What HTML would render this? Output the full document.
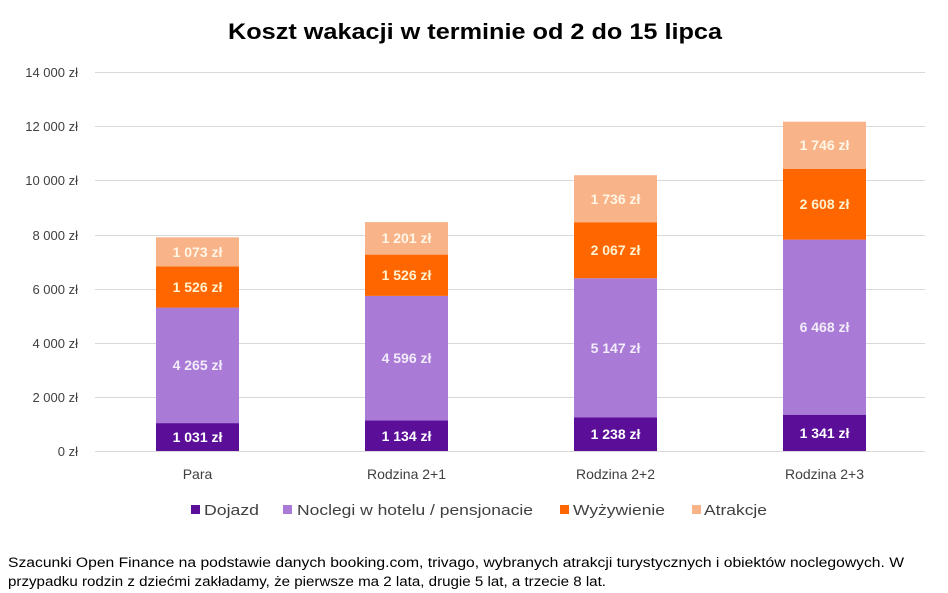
<!DOCTYPE html>
<html><head><meta charset="utf-8"><style>
body{margin:0;background:#fff;}
svg{display:block;font-family:"Liberation Sans",sans-serif;}
</style></head><body>
<svg width="948" height="593" viewBox="0 0 948 593">
<rect width="948" height="593" fill="#fff"/>
<text x="228" y="39" font-size="22" font-weight="bold" fill="#000" textLength="494" lengthAdjust="spacingAndGlyphs">Koszt wakacji w terminie od 2 do 15 lipca</text>
<g stroke="#d9d9d9" stroke-width="1">
<line x1="95" x2="925" y1="72.5" y2="72.5"/>
<line x1="95" x2="925" y1="126.5" y2="126.5"/>
<line x1="95" x2="925" y1="180.5" y2="180.5"/>
<line x1="95" x2="925" y1="235.5" y2="235.5"/>
<line x1="95" x2="925" y1="289.5" y2="289.5"/>
<line x1="95" x2="925" y1="343.5" y2="343.5"/>
<line x1="95" x2="925" y1="397.5" y2="397.5"/>
<line x1="95" x2="925" y1="451.5" y2="451.5"/>
</g>
<g font-size="13" fill="#404040" text-anchor="end">
<text x="78" y="77">14 000 zł</text>
<text x="78" y="131">12 000 zł</text>
<text x="78" y="185">10 000 zł</text>
<text x="78" y="240">8 000 zł</text>
<text x="78" y="294">6 000 zł</text>
<text x="78" y="348">4 000 zł</text>
<text x="78" y="402">2 000 zł</text>
<text x="78" y="456">0 zł</text>
</g>
<rect x="156" y="423.1" width="83" height="27.9" fill="#5b0f99"/>
<rect x="156" y="307.6" width="83" height="115.5" fill="#a97ad6"/>
<rect x="156" y="266.3" width="83" height="41.3" fill="#ff6600"/>
<rect x="156" y="237.3" width="83" height="29" fill="#f8b488"/>
<rect x="365" y="420.3" width="83" height="30.7" fill="#5b0f99"/>
<rect x="365" y="295.9" width="83" height="124.4" fill="#a97ad6"/>
<rect x="365" y="254.6" width="83" height="41.3" fill="#ff6600"/>
<rect x="365" y="222.1" width="83" height="32.5" fill="#f8b488"/>
<rect x="574" y="417.5" width="83" height="33.5" fill="#5b0f99"/>
<rect x="574" y="278.2" width="83" height="139.3" fill="#a97ad6"/>
<rect x="574" y="222.2" width="83" height="56" fill="#ff6600"/>
<rect x="574" y="175.2" width="83" height="47" fill="#f8b488"/>
<rect x="783" y="414.7" width="83" height="36.3" fill="#5b0f99"/>
<rect x="783" y="239.6" width="83" height="175.1" fill="#a97ad6"/>
<rect x="783" y="169" width="83" height="70.6" fill="#ff6600"/>
<rect x="783" y="121.7" width="83" height="47.3" fill="#f8b488"/>
<g font-size="14" font-weight="bold" text-anchor="middle">
<text x="197.5" y="442" fill="#fff">1 031 zł</text>
<text x="197.5" y="370" fill="#f3ecfa">4 265 zł</text>
<text x="197.5" y="292" fill="#fff2d0">1 526 zł</text>
<text x="197.5" y="257" fill="#fff6e8">1 073 zł</text>
<text x="406.5" y="441" fill="#fff">1 134 zł</text>
<text x="406.5" y="363" fill="#f3ecfa">4 596 zł</text>
<text x="406.5" y="280" fill="#fff2d0">1 526 zł</text>
<text x="406.5" y="243" fill="#fff6e8">1 201 zł</text>
<text x="615.5" y="439" fill="#fff">1 238 zł</text>
<text x="615.5" y="353" fill="#f3ecfa">5 147 zł</text>
<text x="615.5" y="255" fill="#fff2d0">2 067 zł</text>
<text x="615.5" y="204" fill="#fff6e8">1 736 zł</text>
<text x="824.5" y="438" fill="#fff">1 341 zł</text>
<text x="824.5" y="332" fill="#f3ecfa">6 468 zł</text>
<text x="824.5" y="209" fill="#fff2d0">2 608 zł</text>
<text x="824.5" y="150" fill="#fff6e8">1 746 zł</text>
</g>
<g font-size="14" fill="#404040" text-anchor="middle">
<text x="197.5" y="479">Para</text>
<text x="406.5" y="479">Rodzina 2+1</text>
<text x="615.5" y="479">Rodzina 2+2</text>
<text x="824.5" y="479">Rodzina 2+3</text>
</g>
<g font-size="15" fill="#404040">
<rect x="191" y="505" width="9" height="9" fill="#5b0f99"/><text x="204" y="515" textLength="55" lengthAdjust="spacingAndGlyphs">Dojazd</text>
<rect x="283" y="505" width="9" height="9" fill="#a97ad6"/><text x="297" y="515" textLength="236" lengthAdjust="spacingAndGlyphs">Noclegi w hotelu / pensjonacie</text>
<rect x="560" y="505" width="9" height="9" fill="#ff6600"/><text x="573" y="515" textLength="92" lengthAdjust="spacingAndGlyphs">Wyżywienie</text>
<rect x="692" y="505" width="9" height="9" fill="#f8b488"/><text x="704" y="515" textLength="63" lengthAdjust="spacingAndGlyphs">Atrakcje</text>
</g>
<g font-size="13.5" fill="#000">
<text x="8" y="567" textLength="896" lengthAdjust="spacingAndGlyphs">Szacunki Open Finance na podstawie danych booking.com, trivago, wybranych atrakcji turystycznych i obiektów noclegowych. W</text>
<text x="8" y="586" textLength="598" lengthAdjust="spacingAndGlyphs">przypadku rodzin z dziećmi zakładamy, że pierwsze ma 2 lata, drugie 5 lat, a trzecie 8 lat.</text>
</g>
</svg>
</body></html>
